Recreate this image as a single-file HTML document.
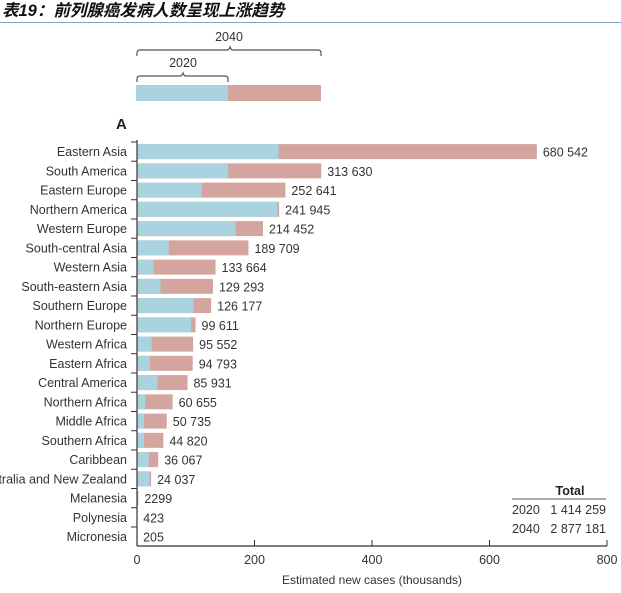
<!DOCTYPE html>
<html><head><meta charset="utf-8"><style>
body{margin:0;background:#fff;width:621px;height:588px;overflow:hidden}
svg text{font-family:"Liberation Sans","Noto Sans CJK SC",sans-serif;fill:#333}
</style></head><body>
<svg id="chart" width="621" height="588" viewBox="0 0 621 588" xmlns="http://www.w3.org/2000/svg">
<text x="2" y="16" font-size="16.5" font-weight="bold" font-style="italic" style="fill:#111">表19：前列腺癌发病人数呈现上涨趋势</text>
<line x1="0" y1="22.5" x2="621" y2="22.5" stroke="#7fa7c0" stroke-width="1"/>
<g>
<rect x="136" y="85" width="92" height="16" fill="#aad3e0"/>
<rect x="228" y="85" width="93" height="16" fill="#d4a49e"/>
<path d="M137 56 v-3 q0-3 3-3 h87 q2 0 3-3 q1 3 3 3 h85 q3 0 3 3 v3" fill="none" stroke="#555" stroke-width="1.2"/>
<text x="229" y="41" font-size="12.5" text-anchor="middle">2040</text>
<path d="M137 82 v-3 q0-3 3-3 h40 q2 0 3-3 q1 3 3 3 h39 q3 0 3 3 v3" fill="none" stroke="#555" stroke-width="1.2"/>
<text x="183" y="67" font-size="12.5" text-anchor="middle">2020</text>
</g>
<text x="116" y="129" font-size="15" font-weight="bold" style="fill:#222">A</text>
<g id="bars"></g>
<g>
<text x="570" y="495" font-size="12.5" font-weight="bold" text-anchor="middle" style="fill:#222">Total</text>
<line x1="512" y1="499" x2="606" y2="499" stroke="#555" stroke-width="1"/>
<text x="512" y="514" font-size="12.5">2020</text>
<text x="606" y="514" font-size="12.5" text-anchor="end">1 414 259</text>
<text x="512" y="533" font-size="12.5">2040</text>
<text x="606" y="533" font-size="12.5" text-anchor="end">2 877 181</text>
</g>
</svg>
<script>
const categories=["Eastern Asia","South America","Eastern Europe","Northern America","Western Europe","South-central Asia","Western Asia","South-eastern Asia","Southern Europe","Northern Europe","Western Africa","Eastern Africa","Central America","Northern Africa","Middle Africa","Southern Africa","Caribbean","Australia and New Zealand","Melanesia","Polynesia","Micronesia"];
const values2020=[241,155,110,239,168,54,28,40,96,92,25,22,35,14,12,12,20,21.5,1,0.2,0.1];
const values2040=[680.542,313.630,252.641,241.945,214.452,189.709,133.664,129.293,126.177,99.611,95.552,94.793,85.931,60.655,50.735,44.820,36.067,24.037,2.299,0.423,0.205];
const valueLabels=["680 542","313 630","252 641","241 945","214 452","189 709","133 664","129 293","126 177","99 611","95 552","94 793","85 931","60 655","50 735","44 820","36 067","24 037","2299","423","205"];
const xTicks=[0,200,400,600,800];
const NS="http://www.w3.org/2000/svg";
const x0=137,x1=607,yTop=151.6,step=19.25,bh=15,axisY=546;
const xs=v=>x0+v/800*(x1-x0);
const ys=i=>yTop+i*step;
const g=document.getElementById('bars');
function mk(t,a){const e=document.createElementNS(NS,t);for(const k in a)e.setAttribute(k,a[k]);g.appendChild(e);return e;}
categories.forEach((c,i)=>{
  const y=ys(i);
  const p=mk('rect',{x:xs(0),y:y-bh/2,width:Math.max(0,xs(values2040[i])-xs(0)),height:bh,fill:'#d4a49e'});
  
  
  const b=mk('rect',{x:xs(0),y:y-bh/2,width:Math.max(0,xs(values2020[i])-xs(0)),height:bh,fill:'#aad3e0'});
  
  
  const l=mk('text',{x:127,y:y+4.5,'font-size':12.5,'text-anchor':'end'});
  l.textContent=c;
  
  
  const v=mk('text',{x:xs(values2040[i])+6,y:y+5,'font-size':12.5});
  v.textContent=valueLabels[i];
  
  
  const tk=mk('line',{x1:x0-6,x2:x0,y1:y-step/2,y2:y-step/2,stroke:'#333','stroke-width':1});
  
  
});
const ya=mk('line',{x1:x0,x2:x0,y1:ys(0)-step/2-2,y2:axisY,stroke:'#333','stroke-width':1.2});


const xa=mk('line',{x1:x0,x2:x1,y1:axisY,y2:axisY,stroke:'#333','stroke-width':1.2});


xTicks.forEach(t=>{
  const tl=mk('line',{x1:xs(t),x2:xs(t),y1:axisY-6,y2:axisY,stroke:'#333','stroke-width':1});
  
  
  const tt=mk('text',{x:xs(t),y:axisY+18,'font-size':12.5,'text-anchor':'middle'});
  tt.textContent=t;
  
  
});
const at=mk('text',{x:372,y:584,'font-size':12,'text-anchor':'middle'});
at.textContent='Estimated new cases (thousands)';


</script>
</body></html>
